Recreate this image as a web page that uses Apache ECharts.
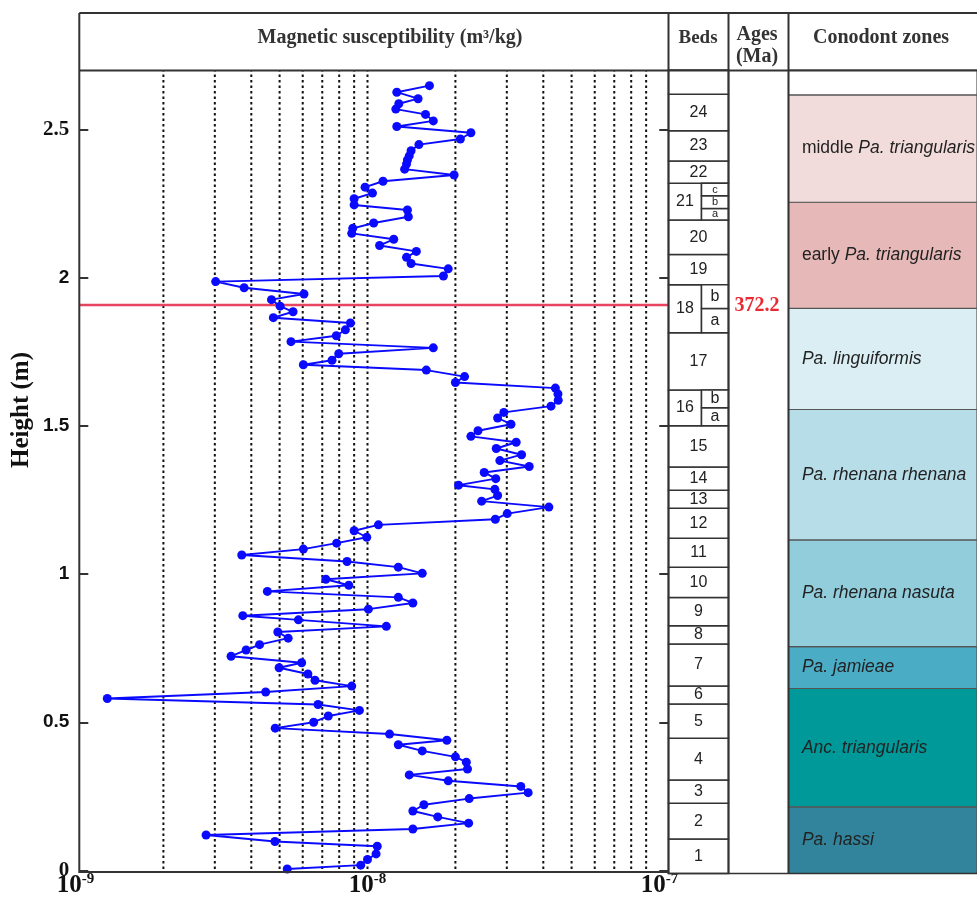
<!DOCTYPE html>
<html><head><meta charset="utf-8">
<script src="https://cdn.jsdelivr.net/npm/echarts@6/dist/echarts.min.js"></script>
<style>html,body{margin:0;padding:0;background:#fff}#c{width:977px;height:898px}</style>
</head><body><div id="c"></div>
<script>
// ---- data (top of section to bottom) ----
const heights = [
  2.647, 2.625, 2.603, 2.586, 2.568, 2.550, 2.528, 2.509, 2.488, 2.467,
  2.448, 2.427, 2.410, 2.396, 2.382, 2.365, 2.345, 2.324, 2.304, 2.284,
  2.265, 2.244, 2.227, 2.204, 2.183, 2.165, 2.148, 2.128, 2.107, 2.087,
  2.067, 2.046, 2.028, 2.004, 1.985, 1.964, 1.943, 1.924, 1.902, 1.883,
  1.863, 1.845, 1.822, 1.802, 1.782, 1.761, 1.741, 1.719, 1.704, 1.686,
  1.664, 1.644, 1.625, 1.605, 1.584, 1.564, 1.543, 1.524, 1.503, 1.481,
  1.462, 1.442, 1.421, 1.400, 1.380, 1.360, 1.340, 1.319, 1.297, 1.283,
  1.262, 1.243, 1.223, 1.201, 1.182, 1.163, 1.143, 1.121, 1.101, 1.081,
  1.061, 1.039, 1.020, 0.999, 0.979, 0.959, 0.938, 0.918, 0.899, 0.878,
  0.856, 0.842, 0.820, 0.801, 0.780, 0.758, 0.740, 0.719, 0.697, 0.680,
  0.659, 0.638, 0.618, 0.598, 0.576, 0.556, 0.536, 0.517, 0.496, 0.476,
  0.456, 0.435, 0.420, 0.399, 0.379, 0.361, 0.338, 0.318, 0.298, 0.279,
  0.258, 0.238, 0.217, 0.196, 0.176, 0.155, 0.135, 0.115, 0.093, 0.077,
  0.051, 0.032, 0.013, 0.000
];
const susceptibility = [
  16.3e-9, 12.6e-9, 14.9e-9, 12.8e-9, 12.5e-9, 15.8e-9, 16.8e-9, 12.6e-9, 22.6e-9, 20.8e-9,
  15.0e-9, 14.1e-9, 13.9e-9, 13.7e-9, 13.6e-9, 13.4e-9, 19.8e-9, 11.3e-9, 9.81e-9, 10.4e-9,
  9.0e-9, 9.0e-9, 13.7e-9, 13.8e-9, 10.5e-9, 8.9e-9, 8.83e-9, 12.3e-9, 11.0e-9, 14.7e-9,
  13.6e-9, 14.1e-9, 18.9e-9, 18.2e-9, 3.02e-9, 3.78e-9, 6.06e-9, 4.69e-9, 5.02e-9, 5.56e-9,
  4.76e-9, 8.74e-9, 8.4e-9, 7.82e-9, 5.47e-9, 16.8e-9, 7.97e-9, 7.56e-9, 6.03e-9, 15.9e-9,
  21.5e-9, 20.0e-9, 44.0e-9, 44.9e-9, 45.0e-9, 42.5e-9, 29.3e-9, 27.9e-9, 31.0e-9, 23.9e-9,
  22.6e-9, 32.3e-9, 27.6e-9, 33.7e-9, 28.4e-9, 35.8e-9, 25.1e-9, 27.5e-9, 20.5e-9, 27.3e-9,
  27.9e-9, 24.6e-9, 41.8e-9, 30.1e-9, 27.4e-9, 10.9e-9, 9.0e-9, 9.94e-9, 7.84e-9, 6.03e-9,
  3.71e-9, 8.51e-9, 12.75e-9, 15.4e-9, 7.2e-9, 8.63e-9, 4.54e-9, 12.75e-9, 14.3e-9, 10.07e-9,
  3.74e-9, 5.8e-9, 11.6e-9, 4.93e-9, 5.35e-9, 4.27e-9, 3.84e-9, 3.41e-9, 5.95e-9, 4.98e-9,
  6.25e-9, 6.61e-9, 8.83e-9, 4.48e-9, 1.285e-9, 6.77e-9, 9.38e-9, 7.34e-9, 6.54e-9, 4.83e-9,
  11.9e-9, 18.7e-9, 12.75e-9, 15.4e-9, 20.0e-9, 21.8e-9, 22.0e-9, 13.9e-9, 18.9e-9, 33.5e-9,
  35.5e-9, 22.3e-9, 15.6e-9, 14.3e-9, 17.4e-9, 22.2e-9, 14.3e-9, 2.8e-9, 4.82e-9, 10.8e-9,
  10.7e-9, 10.0e-9, 9.48e-9, 5.31e-9
];
const gridValues = [2e-9,3e-9,4e-9,5e-9,6e-9,7e-9,8e-9,9e-9,1e-8,2e-8,3e-8,4e-8,5e-8,6e-8,7e-8,8e-8,9e-8];
const heightTicks = [0, 0.5, 1, 1.5, 2, 2.5];
const heightMax = 2.7;
const ageBoundary = 1.907;
const ageLabel = '372.2';

const bedNames   = ['1','2','3','4','5','6','7','8','9','10','11','12','13','14','15','16','17','18','19','20','21','22','23','24',''];
const bedBottoms = [-0.01,0.106,0.227,0.305,0.446,0.562,0.622,0.764,0.826,0.921,1.023,1.121,1.222,1.283,1.361,1.500,1.621,1.814,1.976,2.078,2.194,2.318,2.393,2.495,2.618];
const bedTops    = [0.106,0.227,0.305,0.446,0.562,0.622,0.764,0.826,0.921,1.023,1.121,1.222,1.283,1.361,1.500,1.621,1.814,1.976,2.078,2.194,2.318,2.393,2.495,2.618,2.700];
const bedsWithSub = ['16','18','21'];
const subBedNames   = ['a','b','a','b','a','b','c'];
const subBedBottoms = [1.500,1.561,1.814,1.896,2.194,2.233,2.276];
const subBedTops    = [1.561,1.621,1.896,1.976,2.233,2.276,2.318];
const subBedSmall   = [false,false,false,false,true,true,true];

const zonePrefix  = ['', '', '', '', '', '', 'early ', 'middle ', ''];
const zoneTaxa    = ['Pa. hassi','Anc. triangularis','Pa. jamieae','Pa. rhenana nasuta','Pa. rhenana rhenana','Pa. linguiformis','Pa. triangularis','Pa. triangularis',''];
const zoneBottoms = [-0.01,0.215,0.614,0.755,1.115,1.555,1.896,2.254,2.616];
const zoneTops    = [0.215,0.614,0.755,1.115,1.555,1.896,2.254,2.616,2.700];
const zoneColors  = ['#31849b','#009999','#4bacc6','#92cddc','#b7dde8','#daeef3','#e6b9b8','#f2dcdb','#ffffff'];

// ---- chart ----
const chart = echarts.init(document.getElementById('c'), null, {renderer:'canvas'});
const SANS = 'Liberation Sans', SERIF = 'Liberation Serif';

const bedAreas = [];
bedNames.forEach((n, i) => {
  const narrow = bedsWithSub.indexOf(n) >= 0;
  bedAreas.push([
    {name: n, xAxis: 0, yAxis: bedBottoms[i]},
    {xAxis: narrow ? 0.55 : 1, yAxis: bedTops[i]}
  ]);
});
subBedNames.forEach((n, i) => {
  bedAreas.push([
    {name: n, xAxis: 0.55, yAxis: subBedBottoms[i], label: {fontSize: subBedSmall[i] ? 11 : 16, lineHeight: subBedSmall[i] ? 11 : 16}},
    {xAxis: 1, yAxis: subBedTops[i]}
  ]);
});

const zoneAreas = zoneTaxa.map((t, i) => [
  {name: t, xAxis: 0, yAxis: zoneBottoms[i],
   itemStyle: {color: zoneColors[i]},
   label: {show: t !== '', formatter: zonePrefix[i] + (t ? '{i|' + t + '}' : '')}},
  {xAxis: 1, yAxis: zoneTops[i]}
]);

const gridLineSeries = gridValues.map(v => ({
  type: 'line', xAxisIndex: 1, yAxisIndex: 2, z: 1, silent: true, symbol: 'none',
  data: [[v, 0], [v, heightMax]],
  lineStyle: {color: '#111', width: 2, type: [2.5, 3]}
}));

const serifAt = {'2.5': true, '0': true};

const option = {
  animation: false,
  backgroundColor: '#fff',
  grid: [
    {left: 79.3, top: 70, width: 589, height: 800.5},
    {left: 75.5, top: 70, width: 584, height: 800.5},
    {left: 668.5, top: 70, width: 60, height: 803.5},
    {left: 788.5, top: 70, width: 210, height: 803.5}
  ],
  xAxis: [
    {gridIndex: 0, type: 'value', min: 0, max: 1, show: false},
    {gridIndex: 1, type: 'log', logBase: 10, min: 1e-9, max: 1e-7,
     axisLine: {show: false}, axisTick: {show: false}, splitLine: {show: false}, minorTick: {show: false},
     axisLabel: {margin: 3,
       formatter: v => { const e = Math.round(Math.log10(v)); return '{b|10}{s|' + e + '}'; },
       rich: {
         b: {fontFamily: SERIF, fontWeight: 'bold', fontSize: 25, color: '#111', lineHeight: 26, verticalAlign: 'bottom'},
         s: {fontFamily: SERIF, fontWeight: 'bold', fontSize: 15, color: '#111', lineHeight: 26, verticalAlign: 'top'}
       }}},
    {gridIndex: 2, type: 'value', min: 0, max: 1, show: false},
    {gridIndex: 3, type: 'value', min: 0, max: 1, show: false}
  ],
  yAxis: [
    {gridIndex: 0, type: 'value', min: 0, max: heightMax, interval: 0.5,
     axisLine: {show: false}, splitLine: {show: false},
     axisTick: {show: true, inside: true, length: 9, customValues: heightTicks, lineStyle: {color: '#333', width: 2}},
     axisLabel: {margin: 10, customValues: heightTicks,
       formatter: v => {
         const s = String(v);
         return serifAt[s] ? '{s|' + s + '}' : '{n|' + s + '}';
       },
       rich: {
         s: {fontFamily: SERIF, fontWeight: 'bold', fontSize: 21, color: '#111'},
         n: {fontFamily: SANS, fontWeight: 'bold', fontSize: 19, color: '#111'}
       }}},
    {gridIndex: 0, type: 'value', position: 'right', min: 0, max: heightMax, interval: 0.5,
     axisLine: {show: false}, splitLine: {show: false}, axisLabel: {show: false},
     axisTick: {show: true, inside: true, length: 9, customValues: heightTicks, lineStyle: {color: '#333', width: 2}}},
    {gridIndex: 1, type: 'value', min: 0, max: heightMax, show: false},
    {gridIndex: 2, type: 'value', min: -0.01, max: heightMax, show: false},
    {gridIndex: 3, type: 'value', min: -0.01, max: heightMax, show: false}
  ],
  series: gridLineSeries.concat([
    { // age boundary line
      type: 'line', xAxisIndex: 0, yAxisIndex: 0, data: [[0, ageBoundary], [1, ageBoundary]], symbol: 'none', z: 2, silent: true,
      lineStyle: {color: '#e8435f', width: 2.5, type: 'solid'}
    },
    { // magnetic susceptibility
      type: 'line', xAxisIndex: 1, yAxisIndex: 2, z: 5, clip: false,
      data: heights.map((h, i) => [susceptibility[i], h]),
      symbol: 'circle', symbolSize: 9, showAllSymbol: true,
      itemStyle: {color: '#0a0aff'},
      lineStyle: {color: '#0a0aff', width: 1.9}
    },
    { // beds
      type: 'line', xAxisIndex: 2, yAxisIndex: 3, data: [[0.5, 1]], symbol: 'none', z: 2, silent: true,
      markArea: {silent: true,
        itemStyle: {color: '#ffffff', borderColor: '#333', borderWidth: 1.5},
        label: {show: true, position: 'inside', fontFamily: SANS, fontSize: 16, color: '#222'},
        emphasis: {disabled: true},
        data: bedAreas}
    },
    { // conodont zones
      type: 'line', xAxisIndex: 3, yAxisIndex: 4, data: [[0.5, 1]], symbol: 'none', z: 2, silent: true,
      markArea: {silent: true,
        itemStyle: {borderColor: '#555', borderWidth: 1.2},
        label: {show: true, position: 'insideLeft', distance: 14, fontFamily: SANS, fontSize: 17.5, color: '#222',
          rich: {i: {fontFamily: SANS, fontSize: 17.5, fontStyle: 'italic', color: '#222'}}},
        emphasis: {disabled: true},
        data: zoneAreas}
    }
  ]),
  graphic: [
    {type: 'line', z: 100, shape: {x1: 79.3, y1: 13, x2: 977, y2: 13}, style: {stroke: '#333', lineWidth: 2}},
    {type: 'line', z: 100, shape: {x1: 79.3, y1: 70.5, x2: 977, y2: 70.5}, style: {stroke: '#333', lineWidth: 2}},
    {type: 'line', z: 100, shape: {x1: 79.3, y1: 13, x2: 79.3, y2: 873}, style: {stroke: '#333', lineWidth: 2}},
    {type: 'line', z: 100, shape: {x1: 668.5, y1: 13, x2: 668.5, y2: 874}, style: {stroke: '#333', lineWidth: 2}},
    {type: 'line', z: 100, shape: {x1: 728.5, y1: 13, x2: 728.5, y2: 874}, style: {stroke: '#333', lineWidth: 2}},
    {type: 'line', z: 100, shape: {x1: 788.5, y1: 13, x2: 788.5, y2: 874}, style: {stroke: '#333', lineWidth: 2}},
    {type: 'line', z: 100, shape: {x1: 79.3, y1: 872, x2: 668.5, y2: 872}, style: {stroke: '#333', lineWidth: 2}},
    {type: 'line', z: 100, shape: {x1: 668.5, y1: 873.5, x2: 977, y2: 873.5}, style: {stroke: '#333', lineWidth: 1.5}},
    {type: 'text', z: 100, x: 390, y: 38, style: {text: 'Magnetic susceptibility (m³/kg)', fontFamily: SERIF, fontWeight: 'bold', fontSize: 20, fill: '#333', align: 'center', verticalAlign: 'middle'}},
    {type: 'text', z: 100, x: 698, y: 38, style: {text: 'Beds', fontFamily: SERIF, fontWeight: 'bold', fontSize: 19, fill: '#333', align: 'center', verticalAlign: 'middle'}},
    {type: 'text', z: 100, x: 757, y: 35, style: {text: 'Ages', fontFamily: SERIF, fontWeight: 'bold', fontSize: 20, fill: '#333', align: 'center', verticalAlign: 'middle'}},
    {type: 'text', z: 100, x: 757, y: 57, style: {text: '(Ma)', fontFamily: SERIF, fontWeight: 'bold', fontSize: 20, fill: '#333', align: 'center', verticalAlign: 'middle'}},
    {type: 'text', z: 100, x: 881, y: 38, style: {text: 'Conodont zones', fontFamily: SERIF, fontWeight: 'bold', fontSize: 20, fill: '#333', align: 'center', verticalAlign: 'middle'}},
    {type: 'text', z: 100, x: 757, y: 306, style: {text: ageLabel, fontFamily: SERIF, fontWeight: 'bold', fontSize: 20, fill: '#ea2a33', align: 'center', verticalAlign: 'middle'}},
    {type: 'text', z: 100, x: 22, y: 410, rotation: Math.PI / 2, style: {text: 'Height (m)', fontFamily: SERIF, fontWeight: 'bold', fontSize: 25, fill: '#111', align: 'center', verticalAlign: 'middle'}}
  ]
};
chart.setOption(option);
</script>
</body></html>
